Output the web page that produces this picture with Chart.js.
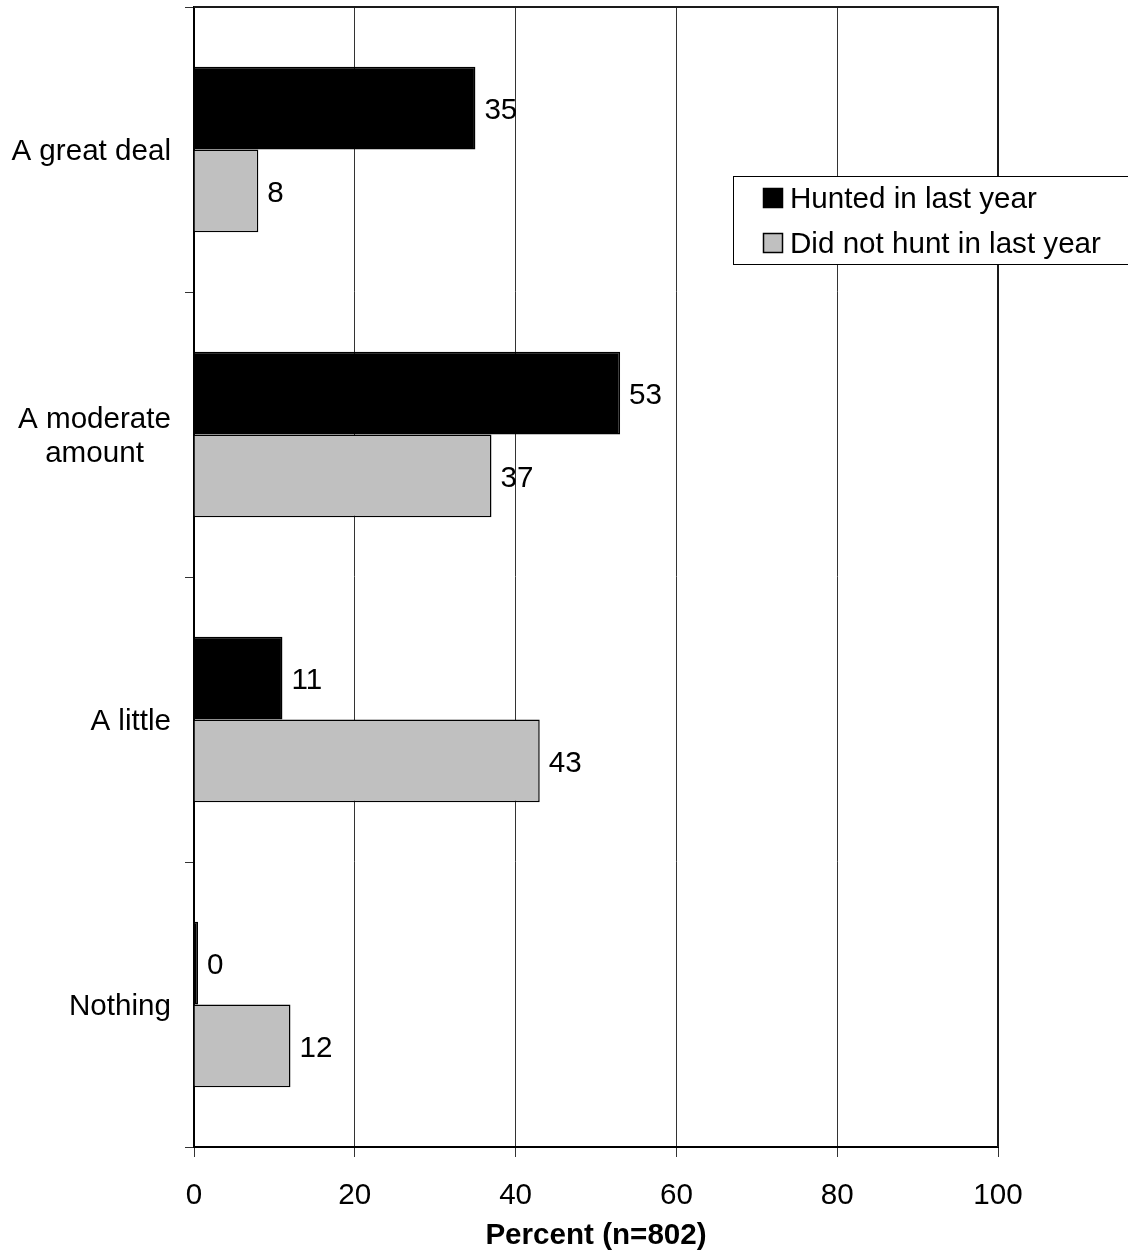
<!DOCTYPE html>
<html>
<head>
<meta charset="utf-8">
<title>Hunting knowledge by hunting status</title>
<script src="https://cdn.jsdelivr.net/npm/chart.js@4.4.1/dist/chart.umd.min.js"></script>
<style>
  html, body { margin: 0; padding: 0; background: #fff; }
  #wrap { width: 1128px; height: 1259px; position: relative; }
</style>
</head>
<body>
<div id="wrap"><canvas id="chart"></canvas></div>
<script>
// Response categories (multi-line labels are arrays of lines)
const categories = ['A great deal', ['A moderate', 'amount'], 'A little', 'Nothing'];

// Percent of respondents per category
const huntedValues = [35, 53, 11, 0];
const notHuntedValues = [8, 37, 43, 12];

const seriesLabels = ['Hunted in last year', 'Did not hunt in last year'];
const seriesColors = ['#000000', '#c0c0c0'];

const xTicks = [0, 20, 40, 60, 80, 100];
const axisTitle = 'Percent (n=802)';

const FONT = 'Liberation Sans, Arial, Helvetica, sans-serif';
const FONT_SIZE = 29.6;

// Frame around the plot area (top and right edges) plus value labels,
// category labels and the boxed legend.
const decorations = {
  id: 'decorations',
  afterDatasetsDraw(chart) {
    const ctx = chart.ctx;
    const a = chart.chartArea;
    ctx.save();

    // top and right edges of the plot frame
    ctx.strokeStyle = '#1a1a1a';
    ctx.lineWidth = 2;
    ctx.beginPath();
    ctx.moveTo(a.left, a.top);
    ctx.lineTo(a.right, a.top);
    ctx.lineTo(a.right, a.bottom);
    ctx.stroke();

    // value labels next to bar ends
    ctx.fillStyle = '#000';
    ctx.font = FONT_SIZE + 'px ' + FONT;
    ctx.textAlign = 'left';
    ctx.textBaseline = 'middle';
    chart.data.datasets.forEach((ds, di) => {
      const meta = chart.getDatasetMeta(di);
      meta.data.forEach((bar, i) => {
        ctx.fillText(String(ds.data[i]), bar.x + 9, bar.y + 3);
      });
    });

    // category labels: block right-aligned to the axis, lines centred in the block
    const yScale = chart.scales.y;
    const rightEdge = a.left - 23;
    const lineStep = 34;
    categories.forEach((cat, i) => {
      const lines = Array.isArray(cat) ? cat : [cat];
      const widths = lines.map(l => ctx.measureText(l).width);
      const maxW = Math.max(...widths);
      const cx = rightEdge - maxW / 2;
      const cy = yScale.getPixelForValue(i) + 2;
      ctx.textAlign = 'center';
      lines.forEach((l, k) => {
        ctx.fillText(l, cx, cy + (k - (lines.length - 1) / 2) * lineStep);
      });
    });

    // legend box
    const lx = 733.5, ly = 176.5, lw = 420, lh = 88;
    ctx.fillStyle = '#fff';
    ctx.fillRect(lx, ly, lw, lh);
    ctx.strokeStyle = '#000';
    ctx.lineWidth = 1;
    ctx.strokeRect(lx, ly, lw, lh);
    const rows = [198, 243];
    ctx.textAlign = 'left';
    seriesLabels.forEach((label, i) => {
      const y = rows[i];
      ctx.fillStyle = seriesColors[i];
      ctx.fillRect(763.5, y - 9.5, 19, 19);
      ctx.strokeStyle = '#000';
      ctx.lineWidth = 1.5;
      ctx.strokeRect(763.5, y - 9.5, 19, 19);
      ctx.fillStyle = '#000';
      ctx.fillText(label, 790, y + 2);
    });

    ctx.restore();
  }
};

new Chart(document.getElementById('chart'), {
  type: 'bar',
  data: {
    labels: categories,
    datasets: [
      {
        label: seriesLabels[0],
        data: huntedValues,
        backgroundColor: seriesColors[0],
        borderColor: '#000',
        borderWidth: 1.5,
        minBarLength: 4
      },
      {
        label: seriesLabels[1],
        data: notHuntedValues,
        backgroundColor: seriesColors[1],
        borderColor: '#000',
        borderWidth: 1.5
      }
    ]
  },
  options: {
    indexAxis: 'y',
    responsive: true,
    maintainAspectRatio: false,
    animation: false,
    layout: { padding: { top: 7, right: 130, left: 0, bottom: 0 } },
    categoryPercentage: 0.58,
    barPercentage: 1.0,
    plugins: {
      legend: { display: false },
      tooltip: { enabled: false }
    },
    scales: {
      x: {
        type: 'linear',
        min: 0,
        max: 100,
        afterBuildTicks(scale) {
          scale.ticks = xTicks.map(v => ({ value: v }));
        },
        afterFit(scale) { scale.height = 112; },
        grid: {
          color: '#333',
          lineWidth: 1,
          tickLength: 10,
          drawOnChartArea: true
        },
        border: { display: true, color: '#000', width: 2 },
        ticks: {
          color: '#000',
          padding: 21,
          font: { family: FONT, size: FONT_SIZE }
        },
        title: {
          display: true,
          text: axisTitle,
          color: '#000',
          padding: { top: 0, bottom: 5 },
          font: { family: FONT, size: FONT_SIZE, weight: 'bold' }
        }
      },
      y: {
        type: 'category',
        offset: true,
        afterFit(scale) { scale.width = 194; },
        grid: {
          offset: true,
          drawOnChartArea: false,
          color: '#333',
          tickLength: 9
        },
        border: { display: true, color: '#000', width: 2 },
        ticks: { display: false }
      }
    }
  },
  plugins: [decorations]
});
</script>
</body>
</html>
